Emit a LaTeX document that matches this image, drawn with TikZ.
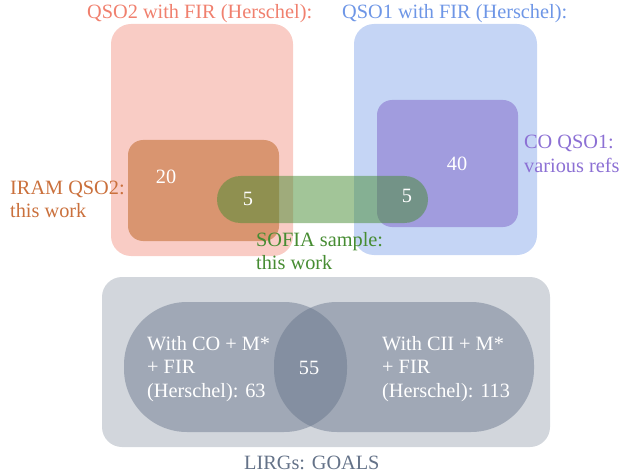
\documentclass[tikz,border=0pt]{standalone}
\usepackage{fontspec}
\setmainfont{Liberation Serif}
\definecolor{qsotwo}{RGB}{240,128,110}
\definecolor{iram}{RGB}{217,149,112}
\definecolor{iramtext}{RGB}{202,112,60}
\definecolor{qsoone}{RGB}{110,150,230}
\definecolor{coqso}{RGB}{161,156,222}
\definecolor{coqsotext}{RGB}{140,112,212}
\definecolor{sofia}{RGB}{70,140,50}
\definecolor{goals}{RGB}{210,214,220}
\definecolor{lirg}{RGB}{100,114,136}
\tikzset{
  lbl/.style={font=\fontsize{20.3}{23.5}\selectfont,align=left,anchor=west,inner sep=0pt},
  num/.style={font=\fontsize{20.3}{23.5}\selectfont,text=white,inner sep=0pt}
}
\begin{document}
\begin{tikzpicture}[x=1pt,y=-1pt]
      \useasboundingbox (0,0) rectangle (623,473);
      % quasar samples
      \fill[qsotwo,fill opacity=.4,rounded corners=20](111,24)rectangle(293,256);
      \fill[iram,rounded corners=15](128,140)rectangle(279,241);
      \fill[qsoone,fill opacity=.4,rounded corners=20](354,24)rectangle(537,255);
      \fill[coqso,rounded corners=15](377,100)rectangle(518,227);
      \fill[sofia,fill opacity=.5,rounded corners=23.5](217,176)rectangle(428,223);
      % LIRGs
      \fill[goals,rounded corners=20](102,277)rectangle(550,447);
      \fill[lirg,fill opacity=.45,rounded corners=63](124,302)rectangle(347,432);
      \fill[lirg,fill opacity=.45,rounded corners=63](274,302)rectangle(534,432);
      \foreach \n/\x/\y/\c/\t in{%
        qsotwo/87/14/qsotwo/{QSO2 with FIR (Herschel):},
        qsoone/342/14/qsoone/{QSO1 with FIR (Herschel):},
        iram/10/199.5/iramtext/{IRAM QSO2:\\this work},
        coqso/524/154/coqsotext/{CO QSO1:\\various refs},
        sofia/256/251/sofia/{SOFIA sample:\\this work},
        goals/244/463/lirg/{LIRGs: GOALS},
        coset/147/369/white/{With CO + M*\\+ FIR\\(Herschel): 63},
        ciiset/382/369/white/{With CII + M*\\+ FIR\\(Herschel): 113}}{%
        \node[lbl,text=\c] (\n) at(\x,\y){\t};
      }
      \foreach \n/\x/\y/\t in{%
        iramn/166/177/20, sofial/248/199/5, sofiar/407/196/5,
        coqson/457/164/40, both/309/368/55}{%
        \node[num] (\n) at(\x,\y){\t};
      }
\end{tikzpicture}
\end{document}
